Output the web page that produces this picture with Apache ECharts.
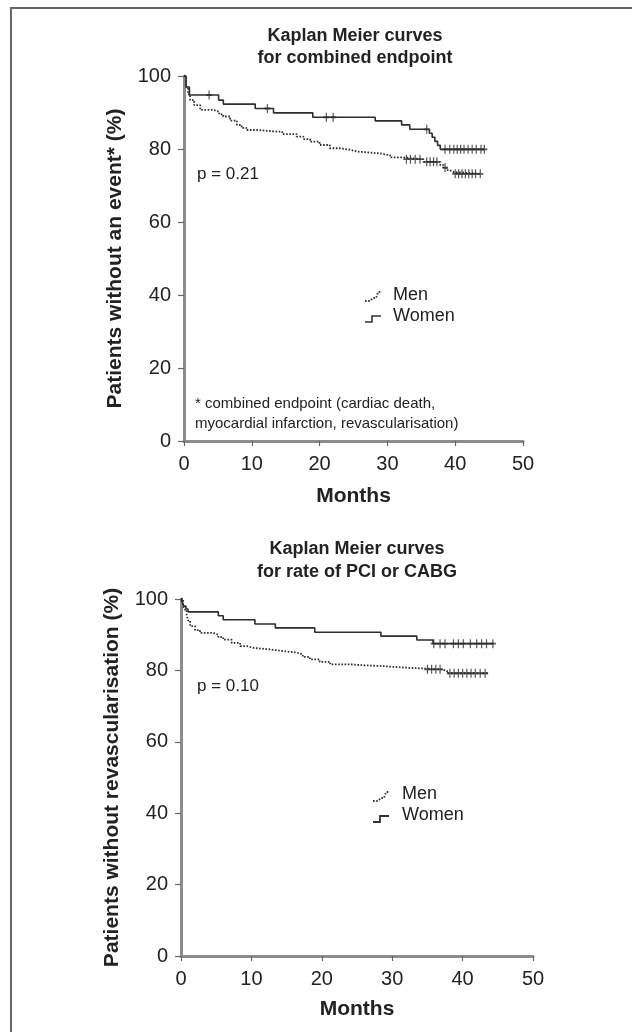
<!DOCTYPE html>
<html>
<head>
<meta charset="utf-8">
<script src="https://cdn.jsdelivr.net/npm/echarts@6/dist/echarts.min.js"></script>
<style>
html,body{margin:0;padding:0;background:#fff;}
#chart{width:632px;height:1032px;}
</style>
</head>
<body>
<div id="chart"></div>
<script>
// ---- Data (months, % event-free) ----
const xTicks = [0, 10, 20, 30, 40, 50];
const yTicks = [0, 20, 40, 60, 80, 100];

// Chart 1: combined endpoint
const c1Women = [[0,100],[0.3,97],[0.8,94.8],[5.1,93.4],[5.8,92.3],[10.5,91.1],[13.2,89.9],[19,88.7],[28.2,87.7],[32.1,86.6],[33.3,85.4],[36.2,84.3],[36.6,83.2],[37,82.1],[37.4,81],[37.8,79.9],[44.3,79.9]];
const c1WomenCens = [[3.7,94.8],[12.3,91.1],[21,88.7],[22,88.7],[35.8,85.4],[38.5,79.9],[39.2,79.9],[39.8,79.9],[40.3,79.9],[40.8,79.9],[41.3,79.9],[41.9,79.9],[42.5,79.9],[43.1,79.9],[43.8,79.9],[44.3,79.9]];
const c1Men = [[0,100],[0.3,97],[0.6,95],[0.9,93.4],[1.5,92],[2.4,90.7],[4.3,90.2],[5.2,89.5],[5.8,88.9],[6.8,87.8],[7.8,86.6],[8.5,85.8],[9.2,85.2],[11,84.9],[12.7,84.7],[14.5,84.1],[16.6,83.4],[17.6,82.7],[18.6,82],[20,81.1],[21.5,80.2],[23,79.8],[24.5,79.3],[25.5,78.8],[28.9,78.3],[30.4,77.7],[32.3,77.2],[35.3,76.5],[37.8,75.6],[38.3,74.9],[38.7,74.2],[39.2,73.7],[39.7,73.2],[43.7,73.2]];
const c1MenCens = [[32.8,77.2],[33.4,77.2],[34.1,77.2],[34.8,77.2],[35.8,76.5],[36.3,76.5],[36.8,76.5],[37.3,76.5],[38.5,74.9],[40,73.2],[40.5,73.2],[41,73.2],[41.5,73.2],[42,73.2],[42.5,73.2],[43,73.2],[43.7,73.2]];

// Chart 2: rate of PCI or CABG
const c2Women = [[0,100],[0.2,99],[0.4,98],[0.7,97.2],[1,96.4],[5.3,95.3],[6,94.2],[10.5,93],[13.4,91.9],[19,90.7],[28.4,89.6],[33.5,88.5],[35.8,87.5],[44.4,87.5]];
const c2WomenCens = [[35.9,87.5],[36.8,87.5],[37.5,87.5],[38.7,87.5],[39.4,87.5],[40.1,87.5],[41.1,87.5],[42,87.5],[42.7,87.5],[43.4,87.5],[44.3,87.5]];
const c2Men = [[0,100],[0.3,98],[0.5,97],[0.8,95.6],[1,94],[1.3,92.4],[2,91.3],[2.7,90.5],[4.6,90],[5.3,89.3],[6,88.6],[7.2,87.7],[8.4,86.8],[9.4,86.3],[10.3,85.9],[12.6,85.4],[14.5,85],[16.4,84.5],[17.3,83.8],[18.3,83.1],[19.7,82.4],[21.2,81.7],[24,81.5],[25.4,81.2],[28.7,80.8],[31.6,80.3],[37,79.8],[37.8,79.2],[43.6,79.2]];
const c2MenCens = [[35,80.3],[35.6,80.3],[36.2,80.3],[36.8,80.3],[38.2,79.2],[38.8,79.2],[39.4,79.2],[40,79.2],[40.6,79.2],[41.2,79.2],[41.8,79.2],[42.5,79.2],[43.2,79.2]];

const seriesNames = ['Men', 'Women'];
const titles = ['Kaplan Meier curves\nfor combined endpoint', 'Kaplan Meier curves\nfor rate of PCI or CABG'];
const yNames = ['Patients without an event* (%)', 'Patients without revascularisation (%)'];
const pLabels = ['p = 0.21', 'p = 0.10'];
const footnote = '* combined endpoint (cardiac death,\nmyocardial infarction, revascularisation)';

// ---- Styling ----
const FONT = "'Liberation Sans', Arial, Helvetica, sans-serif";
const AX = '#8c8c8c';
const INK = '#222222';
const plusPath = 'path://M4,0 L6,0 L6,4 L10,4 L10,6 L6,6 L6,10 L4,10 L4,6 L0,6 L0,4 L4,4 Z';

function xAx(gi, gap){
  return {
    gridIndex: gi, type: 'value', min: xTicks[0], max: xTicks[xTicks.length-1], interval: 10,
    axisLine: {show: true, onZero: false, lineStyle: {color: AX, width: 3}},
    axisTick: {show: true, length: 5, lineStyle: {color: '#666', width: 1.2}},
    axisLabel: {fontSize: 20, color: INK, margin: 13, fontFamily: FONT},
    splitLine: {show: false},
    name: 'Months', nameLocation: 'middle', nameGap: gap,
    nameTextStyle: {fontSize: 21, fontWeight: 'bold', color: INK, fontFamily: FONT}
  };
}
function yAx(gi){
  return {
    gridIndex: gi, type: 'value', min: yTicks[0], max: yTicks[yTicks.length-1], interval: 20,
    axisLine: {show: true, onZero: false, lineStyle: {color: AX, width: 3}},
    axisTick: {show: true, length: 6, lineStyle: {color: '#666', width: 1.2}},
    axisLabel: {fontSize: 20, color: INK, margin: 13, fontFamily: FONT},
    splitLine: {show: false},
    name: yNames[gi], nameLocation: 'middle', nameRotate: 90, nameGap: 58,
    nameTextStyle: {fontSize: 21, fontWeight: 'bold', color: INK, fontFamily: FONT}
  };
}
function lineS(name, data, gi, dotted){
  return {
    name, type: 'line', xAxisIndex: gi, yAxisIndex: gi, data, step: 'end',
    showSymbol: false, symbol: 'none', z: 3,
    lineStyle: {color: '#2d2d2d', width: dotted ? 1.8 : 1.6, type: dotted ? [1.6, 1.6] : 'solid'}
  };
}
function censS(name, data, gi){
  return {
    name, type: 'scatter', xAxisIndex: gi, yAxisIndex: gi, data,
    symbol: plusPath, symbolSize: [6, 9], z: 4,
    itemStyle: {color: '#2d2d2d'}
  };
}

const chart = echarts.init(document.getElementById('chart'), null, {renderer: 'canvas'});

const graphics = [
  {type: 'line', shape: {x1: 11, y1: 8, x2: 11, y2: 1032}, style: {stroke: '#666', lineWidth: 2}},
  {type: 'line', shape: {x1: 10, y1: 8, x2: 632, y2: 8}, style: {stroke: '#666', lineWidth: 2}},
  {type: 'text', x: 355, y: 25, style: {text: titles[0], font: 'bold 18px ' + FONT, fill: INK, textAlign: 'center', lineHeight: 22}},
  {type: 'text', x: 357, y: 538, style: {text: titles[1], font: 'bold 18px ' + FONT, fill: INK, textAlign: 'center', lineHeight: 23}},
  {type: 'text', x: 197, y: 166, style: {text: pLabels[0], font: '17px ' + FONT, fill: INK}},
  {type: 'text', x: 197, y: 678, style: {text: pLabels[1], font: '17px ' + FONT, fill: INK}},
  {type: 'text', x: 195, y: 394, style: {text: footnote, font: '15px ' + FONT, fill: INK, lineHeight: 20}},
  // legend chart 1
  {type: 'polyline', shape: {points: [[365,301],[370,301],[373,298],[376,298],[378,292],[382,292]]}, style: {stroke: '#333', lineWidth: 1.8, lineDash: [1.6,1.6], fill: null}},
  {type: 'polyline', shape: {points: [[365,322],[372,322],[372,316],[381,316]]}, style: {stroke: '#333', lineWidth: 1.6, fill: null}},
  {type: 'text', x: 393, y: 286, style: {text: seriesNames[0], font: '18px ' + FONT, fill: INK}},
  {type: 'text', x: 393, y: 307, style: {text: seriesNames[1], font: '18px ' + FONT, fill: INK}},
  // legend chart 2
  {type: 'polyline', shape: {points: [[373,801],[378,801],[381,798],[384,798],[386,792],[390,792]]}, style: {stroke: '#333', lineWidth: 1.8, lineDash: [1.6,1.6], fill: null}},
  {type: 'polyline', shape: {points: [[373,822],[380,822],[380,816],[389,816]]}, style: {stroke: '#333', lineWidth: 1.8, fill: null}},
  {type: 'text', x: 402, y: 785, style: {text: seriesNames[0], font: '18px ' + FONT, fill: INK}},
  {type: 'text', x: 402, y: 806, style: {text: seriesNames[1], font: '18px ' + FONT, fill: INK}}
];

chart.setOption({
  animation: false,
  backgroundColor: '#ffffff',
  textStyle: {fontFamily: FONT},
  grid: [
    {left: 184, width: 339, top: 76, height: 365},
    {left: 181, width: 352, top: 599, height: 357}
  ],
  xAxis: [xAx(0, 45), xAx(1, 43)],
  yAxis: [yAx(0), yAx(1)],
  series: [
    lineS(seriesNames[0], c1Men, 0, true),
    lineS(seriesNames[1], c1Women, 0, false),
    censS(seriesNames[0], c1MenCens, 0),
    censS(seriesNames[1], c1WomenCens, 0),
    lineS(seriesNames[0], c2Men, 1, true),
    lineS(seriesNames[1], c2Women, 1, false),
    censS(seriesNames[0], c2MenCens, 1),
    censS(seriesNames[1], c2WomenCens, 1)
  ],
  graphic: graphics
});
</script>
</body>
</html>
